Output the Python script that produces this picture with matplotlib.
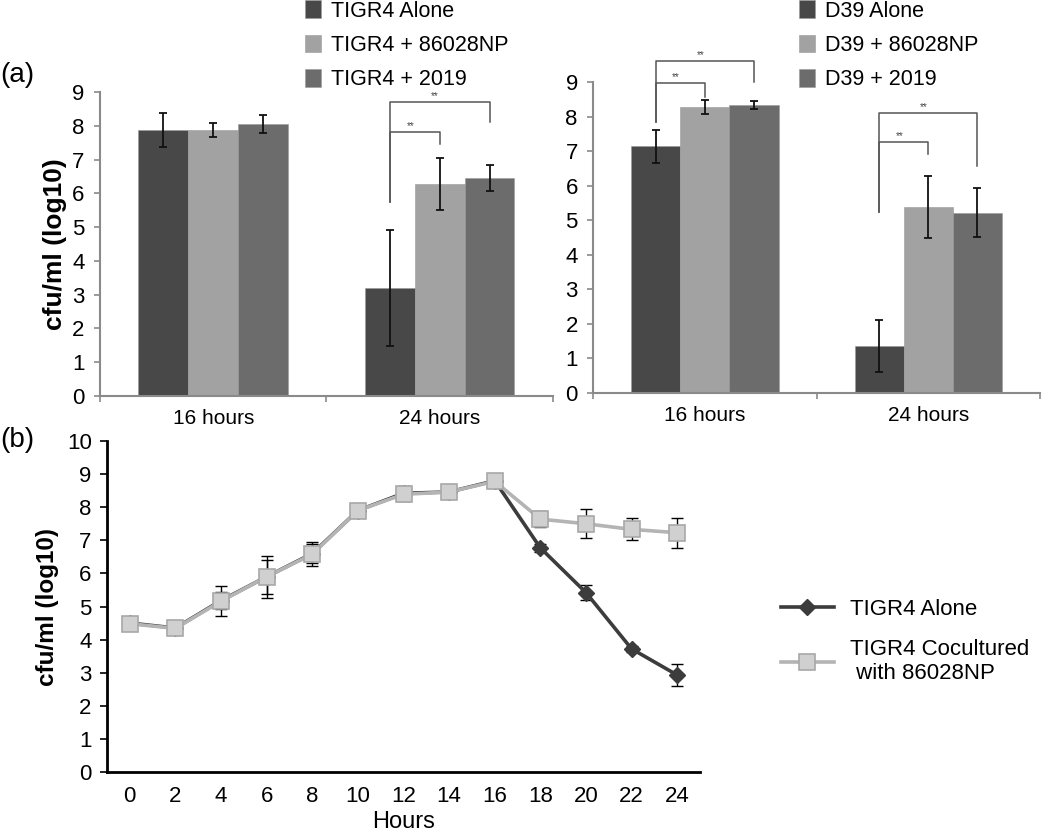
import numpy as np
import matplotlib
matplotlib.use("Agg")
import matplotlib.pyplot as plt

plt.rcParams['font.family'] = ['Liberation Sans', 'DejaVu Sans']

# ---- data ----
times_a = ['16 hours', '24 hours']

tigr_labels = ['TIGR4 Alone', 'TIGR4 + 86028NP', 'TIGR4 + 2019']
tigr_means = [[7.87, 3.20], [7.87, 6.28], [8.05, 6.46]]
tigr_err = [[0.50, 1.72], [0.20, 0.78], [0.26, 0.38]]

d39_labels = ['D39 Alone', 'D39 + 86028NP', 'D39 + 2019']
d39_means = [[7.14, 1.35], [8.27, 5.39], [8.34, 5.22]]
d39_err = [[0.48, 0.75], [0.20, 0.90], [0.12, 0.70]]

hours = [0, 2, 4, 6, 8, 10, 12, 14, 16, 18, 20, 22, 24]
alone = [4.50, 4.35, 5.18, 5.90, 6.60, 7.90, 8.42, 8.46, 8.80, 6.77, 5.42, 3.72, 2.93]
alone_err = [0.10, 0.05, 0.25, 0.52, 0.30, 0.05, 0.22, 0.05, 0.12, 0.12, 0.22, 0.08, 0.32]
cocult = [4.48, 4.34, 5.16, 5.90, 6.58, 7.90, 8.39, 8.46, 8.78, 7.64, 7.50, 7.33, 7.23]
cocult_err = [0.08, 0.05, 0.45, 0.63, 0.37, 0.05, 0.10, 0.05, 0.10, 0.25, 0.44, 0.33, 0.45]

bar_colors = ['#484848', '#a2a2a2', '#6c6c6c']
axis_gray = '#8a8a8a'

fig = plt.figure(figsize=(10.5, 8.33), dpi=100)


def bar_panel(rect, means, errs, labels, brackets, leg_anchor, ylabel=None):
    ax = fig.add_axes(rect)
    x = np.arange(len(times_a))
    w = 0.22
    for i in range(3):
        ax.bar(x + (i - 1) * w, means[i], w, yerr=errs[i], color=bar_colors[i],
               edgecolor='#9a9a9a', linewidth=0.4, label=labels[i],
               error_kw=dict(ecolor='#111111', elinewidth=1.3, capsize=3, capthick=1.3))
    ax.set_xlim(-0.5, 1.5)
    ax.set_ylim(0, 9)
    ax.set_yticks(range(10))
    ax.set_xticks(x)
    ax.set_xticklabels(times_a, fontsize=15)
    ax.set_xticks([-0.5, 0.5, 1.5], minor=True)
    ax.tick_params(axis='x', which='major', length=0, pad=9)
    ax.tick_params(axis='x', which='minor', length=4, color=axis_gray, width=1.2)
    ax.tick_params(axis='y', labelsize=16, length=4, color=axis_gray, width=1.2, pad=7)
    for s in ['top', 'right']:
        ax.spines[s].set_visible(False)
    for s in ['left', 'bottom']:
        ax.spines[s].set_color(axis_gray)
        ax.spines[s].set_linewidth(1.5)
    if ylabel:
        ax.set_ylabel(ylabel, fontsize=19, fontweight='bold', labelpad=4)
    # significance brackets: (group, other bar, start y, top y, end y)
    for g, j, y0, ytop, y1 in brackets:
        xa = g - w
        xb = g + (j - 1) * w
        ax.plot([xa, xa, xb, xb], [y0, ytop, ytop, y1], color='#555555', lw=1.1,
                clip_on=False)
        ax.text((xa + xb) / 2 - 0.02, ytop + 0.17, '**', fontsize=7, color='#444444',
                ha='center', va='center', clip_on=False)
    ax.legend(loc='upper left', bbox_to_anchor=leg_anchor, bbox_transform=fig.transFigure,
              frameon=False, fontsize=15.5, handlelength=0.75, handleheight=0.9,
              handletextpad=0.45, labelspacing=0.6, borderaxespad=0)
    return ax


bar_panel([0.0952, 0.5246, 0.4314, 0.365], tigr_means, tigr_err, tigr_labels,
          [(1, 2, 5.75, 8.71, 8.11), (1, 1, 5.75, 7.82, 7.47)],
          (0.282, 1.01), ylabel='cfu/ml (log10)')
bar_panel([0.5648, 0.5282, 0.4257, 0.3734], d39_means, d39_err, d39_labels,
          [(0, 2, 7.84, 9.60, 9.00), (0, 1, 7.84, 8.97, 8.57),
           (1, 2, 5.25, 8.11, 6.57), (1, 1, 5.25, 7.25, 6.91)],
          (0.753, 1.01))

# ---- panel (b) ----
axb = fig.add_axes([0.1019, 0.0732, 0.5648, 0.3974])
axb.errorbar(hours, alone, yerr=alone_err, fmt='none', ecolor='black', elinewidth=1,
             capsize=4, capthick=1, zorder=1)
axb.errorbar(hours, cocult, yerr=cocult_err, fmt='none', ecolor='black', elinewidth=1,
             capsize=4, capthick=1, zorder=1)
axb.plot(hours, alone, color='#3c3c3c', lw=2.6, marker='D', markersize=8,
         markerfacecolor='#3c3c3c', markeredgecolor='#3c3c3c', zorder=2,
         label='TIGR4 Alone')
axb.plot(hours, cocult, color='#b4b4b4', lw=2.6, marker='s', markersize=12,
         markerfacecolor='#d0d0d0', markeredgecolor='#a8a8a8', markeredgewidth=1.2,
         zorder=3, label='TIGR4 Cocultured\n with 86028NP')
axb.set_xlim(-1, 25)
axb.set_ylim(0, 10)
axb.set_xticks(hours)
axb.set_yticks(range(11))
axb.set_xticklabels([str(h) for h in hours], fontsize=16)
axb.set_yticklabels([str(v) for v in range(11)], fontsize=16)
axb.tick_params(axis='x', length=0, pad=10)
axb.tick_params(axis='y', length=5, width=1.2, color='black', pad=6)
for s in ['top', 'right']:
    axb.spines[s].set_visible(False)
for s in ['left', 'bottom']:
    axb.spines[s].set_color('black')
    axb.spines[s].set_linewidth(2)
axb.set_xlabel('Hours', fontsize=17, labelpad=3)
axb.set_ylabel('cfu/ml (log10)', fontsize=17.5, fontweight='bold', labelpad=6)
axb.legend(loc='upper left', bbox_to_anchor=(0.735, 0.292), bbox_transform=fig.transFigure,
           frameon=False, fontsize=16, handlelength=2.4, handletextpad=0.7,
           labelspacing=0.88, borderaxespad=0)

fig.text(0.0, 0.91, '(a)', fontsize=20, va='center', ha='left')
fig.text(0.0, 0.472, '(b)', fontsize=20, va='center', ha='left')

fig.savefig('out.png', dpi=100)
